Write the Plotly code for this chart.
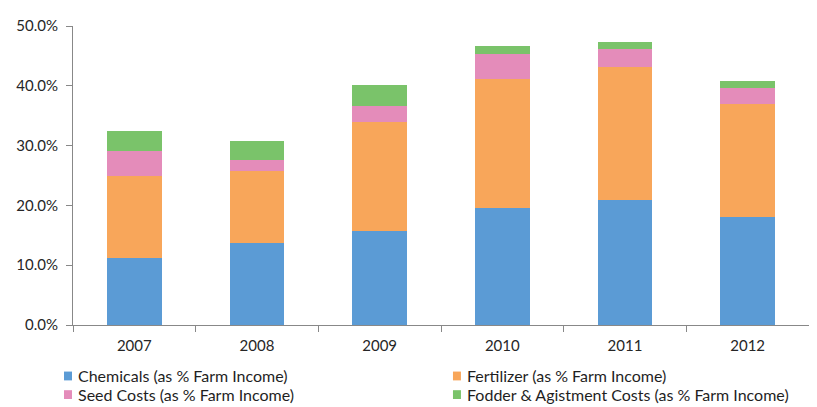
import plotly.graph_objects as go

years = ["2007", "2008", "2009", "2010", "2011", "2012"]
chemicals = [11.2, 13.7, 15.65, 19.55, 20.9, 18.1]
fertilizer = [13.7, 12.05, 18.3, 21.6, 22.3, 18.8]
seed = [4.25, 1.85, 2.75, 4.25, 3.0, 2.7]
fodder = [3.35, 3.2, 3.5, 1.2, 1.2, 1.2]

series = [
    ("Chemicals (as % Farm Income)", chemicals, "#5B9BD5"),
    ("Fertilizer (as % Farm Income)", fertilizer, "#F8A65A"),
    ("Seed Costs (as % Farm Income)", seed, "#E48CBA"),
    ("Fodder & Agistment Costs (as % Farm Income)", fodder, "#7AC36A"),
]

OFF = 8  # default page body margin
W, H = 817 - OFF, 407 - OFF
ML, MR, MT, MB = 63, 8, 12, 82
PW, PH = W - ML - MR, H - MT - MB

def px_x(x):
    return (x - OFF - ML) / PW

def px_y(y):
    return (H - MB - (y - OFF)) / PH

fig = go.Figure()
for name, vals, col in series:
    fig.add_trace(go.Bar(
        x=years, y=[v / 100 for v in vals], name=name,
        marker=dict(color=col, line=dict(width=0)),
        showlegend=False,
    ))

# manual two-column legend
leg_cols = [62, 452]
leg_rows = [377, 396]
shapes, annos = [], []
for i, (name, vals, col) in enumerate(series):
    cx = leg_cols[i % 2]
    cy = leg_rows[i // 2]
    shapes.append(dict(type="rect", xref="paper", yref="paper",
                       x0=px_x(cx), x1=px_x(cx + 8),
                       y0=px_y(cy + 4.5), y1=px_y(cy - 4.5),
                       fillcolor=col, line=dict(width=0)))
    annos.append(dict(xref="paper", yref="paper", x=px_x(cx + 12), y=px_y(cy),
                      xanchor="left", yanchor="middle", showarrow=False,
                      text=name, font=dict(size=16, color="#1f1f1f")))

FONT = "Lato, Open Sans, sans-serif"
fig.update_layout(
    barmode="stack",
    bargap=0.553,
    width=W, height=H,
    margin=dict(l=ML, r=MR, t=MT, b=MB),
    paper_bgcolor="white", plot_bgcolor="white",
    font=dict(family=FONT, size=15, color="#262626"),
    showlegend=False,
    shapes=shapes, annotations=annos,
    xaxis=dict(
        type="category", showline=True, linecolor="#888888", linewidth=1,
        ticks="outside", ticklen=6, tickcolor="#888888", tickson="boundaries",
        showgrid=False, tickfont=dict(size=15, color="#262626"),
        ticklabelstandoff=7,
    ),
    yaxis=dict(
        range=[0, 0.5], tickformat=".1%", dtick=0.1, showline=True,
        linecolor="#888888", linewidth=1, ticks="outside", ticklen=6,
        tickcolor="#888888", showgrid=False, zeroline=False,
        tickfont=dict(size=15, color="#262626"), ticklabelstandoff=5,
    ),
)

fig.write_html("out.html")
